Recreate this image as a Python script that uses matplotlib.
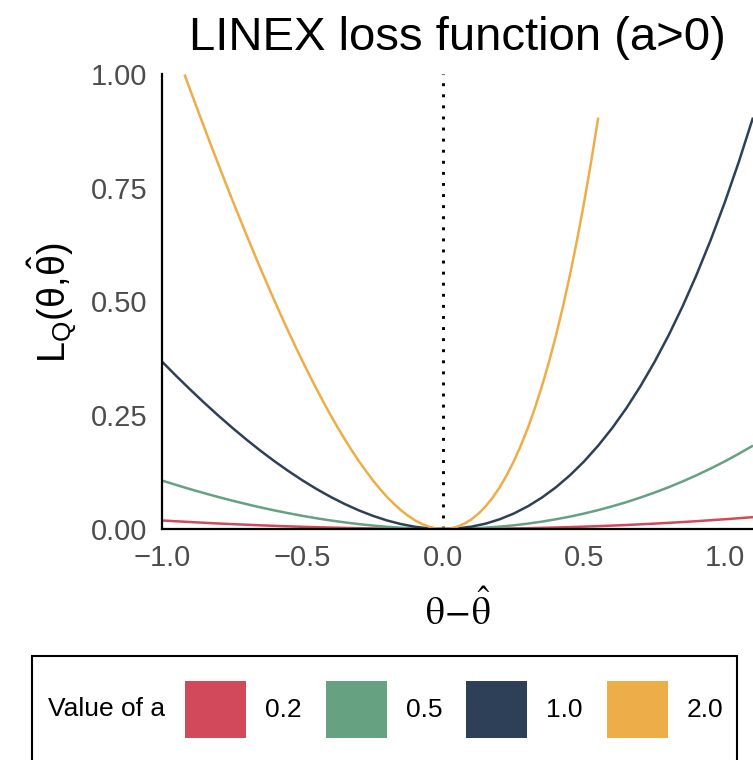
import numpy as np
import matplotlib
matplotlib.use('Agg')
import matplotlib.pyplot as plt
from matplotlib.patches import Patch, Rectangle

plt.rcParams['font.family'] = ['Liberation Sans', 'DejaVu Sans']
plt.rcParams['mathtext.fontset'] = 'custom'
plt.rcParams['mathtext.rm'] = 'Liberation Sans'
plt.rcParams['mathtext.it'] = 'Liberation Sans:italic'

# grid of theta - theta_hat values
x_grid = np.round(np.arange(-1.0, 1.1001, 0.05), 2)

# loss values, one list per value of a
loss_a02 = [0.0187, 0.0170, 0.0153, 0.0137, 0.0121, 0.0107, 0.0094, 0.0081, 0.0069, 0.0058,
            0.0048, 0.0039, 0.0031, 0.0024, 0.0018, 0.0012, 0.0008, 0.0004, 0.0002, 0.0001,
            0.0,
            0.0001, 0.0002, 0.0005, 0.0008, 0.0013, 0.0018, 0.0025, 0.0033, 0.0042, 0.0052,
            0.0063, 0.0075, 0.0088, 0.0103, 0.0118, 0.0135, 0.0153, 0.0172, 0.0193, 0.0214,
            0.0237, 0.0261]
loss_a05 = [0.1065, 0.0969, 0.0876, 0.0788, 0.0703, 0.0623, 0.0547, 0.0475, 0.0408, 0.0346,
            0.0288, 0.0235, 0.0187, 0.0145, 0.0107, 0.0075, 0.0048, 0.0027, 0.0012, 0.0003,
            0.0,
            0.0003, 0.0013, 0.0029, 0.0052, 0.0081, 0.0118, 0.0162, 0.0214, 0.0273, 0.0340,
            0.0415, 0.0499, 0.0590, 0.0691, 0.0800, 0.0918, 0.1046, 0.1183, 0.1330, 0.1487,
            0.1655, 0.1833]
loss_a10 = [0.3679, 0.3367, 0.3066, 0.2774, 0.2493, 0.2224, 0.1966, 0.1720, 0.1488, 0.1270,
            0.1065, 0.0876, 0.0703, 0.0547, 0.0408, 0.0288, 0.0187, 0.0107, 0.0048, 0.0012,
            0.0,
            0.0013, 0.0052, 0.0118, 0.0214, 0.0340, 0.0499, 0.0691, 0.0918, 0.1183, 0.1487,
            0.1833, 0.2221, 0.2655, 0.3138, 0.3670, 0.4255, 0.4896, 0.5596, 0.6357, 0.7183,
            0.8077, 0.9042]
# a = 2 leaves the [0, 1] window early, so it has its own (finer) x values
x_a20 = [-0.92] + list(np.round(np.arange(-0.9, 0.5501, 0.025), 3))
loss_a20 = [0.9988,
            0.9653, 0.9238, 0.8827, 0.8421, 0.8019, 0.7622, 0.7231, 0.6846, 0.6466, 0.6092,
            0.5725, 0.5365, 0.5012, 0.4666, 0.4329, 0.3999, 0.3679, 0.3367, 0.3066, 0.2774,
            0.2493, 0.2224, 0.1966, 0.1720, 0.1488, 0.1270, 0.1065, 0.0876, 0.0703, 0.0547,
            0.0408, 0.0288, 0.0187, 0.0107, 0.0048, 0.0012, 0.0,
            0.0013, 0.0052, 0.0118, 0.0214, 0.0340, 0.0499, 0.0691, 0.0918, 0.1183, 0.1487,
            0.1833, 0.2221, 0.2655, 0.3138, 0.3670, 0.4255, 0.4896, 0.5596, 0.6357, 0.7183,
            0.8077, 0.9042]

a_labels = ['0.2', '0.5', '1.0', '2.0']
colors = ['#D1495B', '#66A182', '#2E4057', '#EDAE49']

x_ticks = [-1.0, -0.5, 0.0, 0.5, 1.0]
x_tick_labels = ['\u22121.0', '\u22120.5', '0.0', '0.5', '1.0']
y_ticks = [0.0, 0.25, 0.5, 0.75, 1.0]
y_tick_labels = ['0.00', '0.25', '0.50', '0.75', '1.00']

W, H = 753, 760
fig = plt.figure(figsize=(W / 100, H / 100), dpi=100)
ax = fig.add_axes([162 / W, 1 - 529 / H, (W - 162) / W, (529 - 74) / H])

series = [(x_grid, loss_a02), (x_grid, loss_a05), (x_grid, loss_a10), (x_a20, loss_a20)]
for (xs, ys), c in zip(series, colors):
    ax.plot(xs, ys, color=c, lw=1.8, solid_capstyle='butt', solid_joinstyle='round')

ax.axvline(0, color='black', lw=2.1, linestyle=(0, (1, 2.8)), zorder=1)

ax.set_xlim(-1.0, 1.1)
ax.set_ylim(0, 1.0)
ax.set_xticks(x_ticks)
ax.set_xticklabels(x_tick_labels)
ax.set_yticks(y_ticks)
ax.set_yticklabels(y_tick_labels)
ax.tick_params(axis='both', length=0, labelsize=21, labelcolor='#4D4D4D')
ax.tick_params(axis='x', pad=11)
ax.tick_params(axis='y', pad=10.5)

for side in ['top', 'right']:
    ax.spines[side].set_visible(False)
for side in ['left', 'bottom']:
    ax.spines[side].set_linewidth(1.6)
    ax.spines[side].set_color('black')

ax.set_title('LINEX loss function (a>0)', fontsize=34, pad=17)

fig.text(52 / W, 1 - 303 / H, r'$\mathrm{L_Q(\theta,\!\hat{\theta})}$', rotation=90,
         ha='center', va='center', fontsize=27)
fig.text(458 / W, 1 - 612 / H, r'$\mathrm{\theta}\!-\!\hat{\mathrm{\theta}}$',
         ha='center', va='center', fontsize=27, math_fontfamily='stix')

# legend at the bottom
box = Rectangle((32 / W, -0.05), (737 - 32) / W, (0.05 + 1 - 656 / H), transform=fig.transFigure,
                fill=False, edgecolor='black', lw=1.5, clip_on=False)
fig.add_artist(box)
fig.text(48 / W, 1 - 709 / H, 'Value of a', ha='left', va='center', fontsize=19)
handles = [Patch(facecolor=c, edgecolor='none') for c in colors]
fig.legend(handles, a_labels, loc='center left', bbox_to_anchor=(185 / W, 1 - 709.5 / H),
           ncol=4, frameon=False, fontsize=19, handlelength=2.31, handleheight=2.95,
           handletextpad=0.72, columnspacing=0.91, borderpad=0, borderaxespad=0)

fig.savefig('out.png', dpi=100)
